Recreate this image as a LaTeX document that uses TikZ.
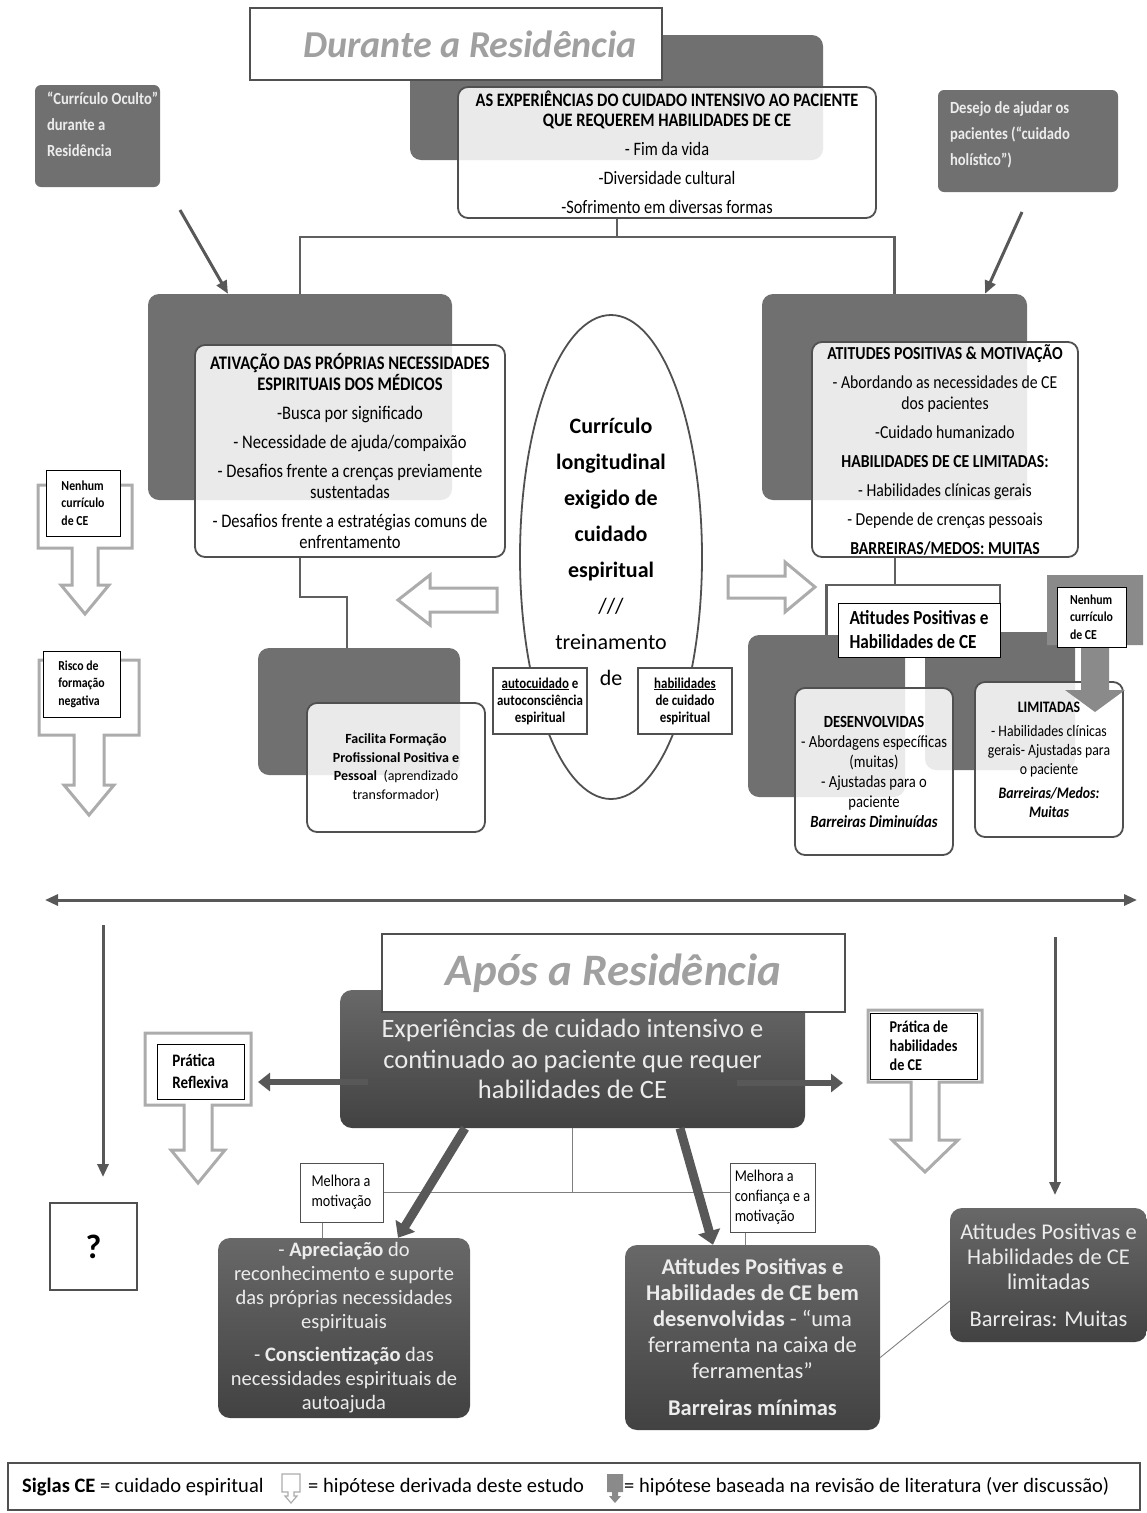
\documentclass[tikz,border=0pt]{standalone}
\usepackage{fontspec}
\setmainfont{Carlito}
\newfontfamily\condfont[FakeStretch=0.86]{Carlito}
\usetikzlibrary{shapes.geometric,arrows.meta}
\definecolor{bggray}{RGB}{112,112,112}
\definecolor{boxline}{RGB}{80,80,80}
\definecolor{linkgray}{RGB}{95,95,95}
\definecolor{arrowgray}{RGB}{88,88,88}
\definecolor{hollowgray}{RGB}{172,172,172}
\definecolor{lighttext}{RGB}{236,236,236}
\definecolor{titlegray}{RGB}{160,160,160}
\definecolor{darktop}{RGB}{104,104,104}
\definecolor{darkbot}{RGB}{66,66,66}
% callout arrow pointing down: x, half width, top, bottom of box, shaft half, head base, head half, tip, style
\newcommand{\calloutdown}[9]{%
  \path[#9] (#1-#2,#3) -- (#1+#2,#3) -- (#1+#2,#4) -- (#1+#5,#4) -- (#1+#5,#6) -- (#1+#7,#6)
    -- (#1,#8) -- (#1-#7,#6) -- (#1-#5,#6) -- (#1-#5,#4) -- (#1-#2,#4) -- cycle;}
\begin{document}
\begin{tikzpicture}[x=1pt,y=-1pt,
  bgrect/.style={fill=bggray, rounded corners=11pt, inner sep=0pt},
  whitebox/.style={draw=boxline, line width=1.8pt, fill=white, fill opacity=0.86, text opacity=1, rounded corners=10pt, align=center, inner sep=0pt},
  tagbox/.style={draw=black, line width=1pt, fill=white, inner sep=0pt, align=left, font=\condfont\bfseries\fontsize{13.7}{17.5}\selectfont},
  greytag/.style={fill=bggray, rounded corners=6pt, inner sep=0pt},
  greytext/.style={anchor=north west, inner sep=0pt, text=lighttext, align=left, font=\condfont\bfseries\fontsize{17}{26}\selectfont},
  darkbox/.style={top color=darktop, bottom color=darkbot, rounded corners=12pt, inner sep=0pt, text=lighttext, align=center},
  titlebox/.style={draw=boxline, line width=2pt, fill=white, inner sep=0pt, text=titlegray},
  link/.style={draw=linkgray, line width=2.4pt},
  fine/.style={draw=linkgray!80, line width=0.9pt},
  heavy/.style={draw=arrowgray, line width=3pt, -{Triangle[length=13pt,width=11pt]}},
  side/.style={draw=arrowgray, line width=6pt, -{Triangle[length=12pt,width=18pt]}},
  bigarrow/.style={draw=arrowgray, line width=9pt, -{Triangle[length=14pt,width=22pt]}},
  hollow/.style={draw=hollowgray, line width=3pt, fill=white},
  solidcall/.style={fill=hollowgray!80!black},
]
\useasboundingbox (0,0) rectangle (1147,1513);

%% Durante a Residencia
\node[bgrect, minimum width=413, minimum height=125] (expbg) at (616.5,97.5) {};
\node[bgrect, minimum width=304, minimum height=206] (ativbg) at (300,397) {};
\node[bgrect, minimum width=265, minimum height=206] (atitbg) at (894.5,397) {};
\node[bgrect, minimum width=202, minimum height=127] (facbg) at (359,711.5) {};
\node[bgrect, minimum width=157, minimum height=162] (desbg) at (826.5,716) {};
\node[bgrect, minimum width=150, minimum height=138] (limbg) at (1000,701) {};

\node[titlebox, minimum width=412, minimum height=72] (durante) at (456,44) {};
\node[text=titlegray, font=\fontsize{38}{38}\selectfont\bfseries\itshape] (durantetext) at ([xshift=14pt]durante.center) {Durante a Residência};

\node[whitebox, minimum width=418, minimum height=131, font=\condfont\fontsize{19}{20}\selectfont] (exp) at (667,152.5)
  {\textbf{AS EXPERIÊNCIAS DO CUIDADO INTENSIVO AO PACIENTE}\\\textbf{QUE REQUEREM HABILIDADES DE CE}\\[9pt]- Fim da vida\\[9pt]-Diversidade cultural\\[9pt]-Sofrimento em diversas formas};

\node[greytag, minimum width=125, minimum height=102] (oculto) at (97.5,136) {};
\node[greytext] (ocultotext) at ([shift={(12,7)}]oculto.north west) {“Currículo Oculto”\\durante a\\Residência};
\node[greytag, minimum width=180, minimum height=102] (desejo) at (1028,141) {};
\node[greytext] (desejotext) at ([shift={(12,12)}]desejo.north west) {Desejo de ajudar os\\pacientes (“cuidado\\holístico”)};

\coordinate (split) at (617,237);
\draw[link] (split) -- (split |- exp.south);
\draw[link] (ativbg.north) |- (split) -| (atitbg.north);

\coordinate (ocA) at (180,210);
\draw[heavy] (ocA) -- (ativbg.north -| 228,0);
\coordinate (deA) at (1022,212);
\draw[heavy] (deA) -- (atitbg.north -| 985,0);

\node[whitebox, minimum width=310, minimum height=212, font=\condfont\fontsize{19.2}{21}\selectfont] (ativ) at (350,451)
  {\textbf{ATIVAÇÃO DAS PRÓPRIAS NECESSIDADES}\\\textbf{ESPIRITUAIS DOS MÉDICOS}\\[8pt]-Busca por significado\\[8pt]- Necessidade de ajuda/compaixão\\[8pt]- Desafios frente a crenças previamente\\sustentadas\\[8pt]- Desafios frente a estratégias comuns de\\enfrentamento};

\node[whitebox, minimum width=266, minimum height=215, font=\condfont\fontsize{18.3}{21}\selectfont] (atit) at (945,449.5)
  {\textbf{ATITUDES POSITIVAS \& MOTIVAÇÃO}\\[8pt]- Abordando as necessidades de CE\\dos pacientes\\[8pt]-Cuidado humanizado\\[8pt]\textbf{HABILIDADES DE CE LIMITADAS:}\\[8pt]- Habilidades clínicas gerais\\[8pt]- Depende de crenças pessoais\\[8pt]\textbf{BARREIRAS/MEDOS: MUITAS}};

\node[draw=boxline, line width=1.8pt, ellipse, fill=white, minimum width=182, minimum height=484, inner sep=0pt] (curric) at (611,557) {};
\node[align=center, inner sep=0pt, font=\fontsize{22}{36}\selectfont] (currictext) at ([yshift=5pt]curric.center)
  {\textbf{Currículo}\\\textbf{longitudinal}\\\textbf{exigido de}\\\textbf{cuidado}\\\textbf{espiritual}\\///\\treinamento\\de};

\node[tagbox, draw=boxline, line width=1.8pt, align=center, font=\condfont\bfseries\fontsize{15}{17}\selectfont, minimum width=94, minimum height=66] (autoc) at (540,701) {\underline{autocuidado} e\\autoconsciência\\espiritual};
\node[tagbox, draw=boxline, line width=1.8pt, align=center, font=\condfont\bfseries\fontsize{15}{17}\selectfont, minimum width=94, minimum height=66] (habcui) at (685,701) {\underline{habilidades}\\de cuidado\\espiritual};

\draw[hollow] (497,588) -- (430,588) -- (430,575) -- (398,600) -- (430,625) -- (430,612) -- (497,612) -- cycle;
\draw[hollow] (728,576) -- (785,576) -- (785,562) -- (815,587) -- (785,612) -- (785,598) -- (728,598) -- cycle;

\coordinate (bend) at (347,597);
\draw[link] (ativ.south -| ativbg.north) |- (bend) -- (bend |- facbg.north);
\node[whitebox, minimum width=178, minimum height=129, font=\fontsize{14}{18.5}\selectfont] (fac) at (396,767.5)
  {\textbf{Facilita Formação}\\\textbf{Profissional Positiva e}\\\textbf{Pessoal}\ \ (aprendizado\\transformador)};

\calloutdown{85}{47}{485}{548}{13}{585}{24}{614}{hollow}
\node[tagbox, minimum width=74, minimum height=66] (nenhumL) at (83,503) {Nenhum\\currículo\\de CE};
\calloutdown{89}{50}{660}{735}{15}{785}{25}{815}{hollow}
\node[tagbox, minimum width=77, minimum height=66] (riscoL) at (81.5,684) {Risco de\\formação\\negativa};

\coordinate (atsplit) at (895,585);
\draw[link] (atit.south -| atsplit) -- (atsplit);
\draw[link] (desbg.north) |- (atsplit) -| (1000,603);
\node[draw=black, line width=1pt, fill=white, inner sep=0pt, align=left, minimum width=162, minimum height=54, font=\condfont\bfseries\fontsize{20}{24}\selectfont] (atpos) at (919,630) {Atitudes Positivas e\\Habilidades de CE};

\node[whitebox, minimum width=158, minimum height=167, font=\condfont\fontsize{17}{20}\selectfont] (desenv) at (874,771.5)
  {\textbf{DESENVOLVIDAS}\\- Abordagens específicas\\(muitas)\\- Ajustadas para o\\paciente\\\textbf{\textit{Barreiras Diminuídas}}};
\node[whitebox, minimum width=148, minimum height=155, font=\condfont\fontsize{16}{19}\selectfont] (limit) at (1049,759.5)
  {\textbf{LIMITADAS}\\[5pt]- Habilidades clínicas\\gerais- Ajustadas para\\o paciente\\[5pt]\textbf{\textit{Barreiras/Medos:}}\\\textbf{\textit{Muitas}}};

\calloutdown{1095}{48}{575}{645}{14}{690}{30}{712}{solidcall}
\node[tagbox, minimum width=69, minimum height=60] (nenhumR) at (1091.5,617) {Nenhum\\currículo\\de CE};

%% Apos a Residencia
\coordinate (tleft) at (45,900);
\coordinate (tright) at (1137,900);
\draw[heavy, {Triangle[length=13pt,width=11pt]}-{Triangle[length=13pt,width=11pt]}] (tleft) -- (tright);

\node[darkbox, minimum width=465, minimum height=138, font=\fontsize{26.5}{30.5}\selectfont] (expafter) at (572.5,1059)
  {Experiências de cuidado intensivo e\\continuado ao paciente que requer\\habilidades de CE};
\node[titlebox, minimum width=463, minimum height=78] (apos) at (613.5,973) {};
\node[text=titlegray, font=\fontsize{45}{45}\selectfont\bfseries\itshape] (apostext) at (apos.center) {Após a Residência};

\calloutdown{198}{53}{1033}{1105}{14}{1150}{27}{1183}{hollow}
\node[tagbox, font=\condfont\bfseries\fontsize{17.5}{22}\selectfont, minimum width=87, minimum height=55] (reflex) at (200.5,1071.5) {Prática\\Reflexiva};
\calloutdown{925}{57}{1010}{1082}{14}{1140}{33}{1172}{hollow}
\node[tagbox, font=\condfont\bfseries\fontsize{16.5}{19}\selectfont, minimum width=107, minimum height=66] (pratica) at (923.5,1046) {Prática de\\habilidades\\de CE};

\coordinate (refA) at (368,1082);
\coordinate (refB) at (258,1082);
\draw[side] (refA) -- (refB);
\coordinate (praA) at (737,1083);
\coordinate (praB) at (843,1083);
\draw[side] (praA) -- (praB);

\coordinate (leftdrop) at (103,925);
\draw[heavy, shorten >=26pt] (leftdrop) -- (leftdrop |- 0,1203);
\node[draw=boxline, line width=1.8pt, fill=white, inner sep=0pt, minimum width=87, minimum height=87, font=\bfseries\fontsize{34}{34}\selectfont] (qbox) at (93.5,1246.5) {?};

\node[tagbox, font=\condfont\fontsize{16.5}{20}\selectfont, draw=boxline, minimum width=83, minimum height=59] (melh1) at (341.5,1192.5) {Melhora a\\motivação};
\node[tagbox, font=\condfont\fontsize{16.5}{20}\selectfont, draw=boxline, minimum width=85, minimum height=69] (melh2) at (772.5,1197.5) {Melhora a\\confiança e a\\motivação};

\node[darkbox, minimum width=252, minimum height=180, font=\fontsize{20.5}{24}\selectfont] (apreci) at (344,1328)
  {- \textbf{Apreciação} do\\reconhecimento e suporte\\das próprias necessidades\\espirituais\\[9pt]- \textbf{Conscientização} das\\necessidades espirituais de\\autoajuda};
\node[darkbox, minimum width=255, minimum height=185, font=\fontsize{22.5}{26}\selectfont] (bemdes) at (752.5,1337.5)
  {\textbf{Atitudes Positivas e}\\\textbf{Habilidades de CE bem}\\\textbf{desenvolvidas} - “uma\\ferramenta na caixa de\\ferramentas”\\[11pt]\textbf{Barreiras mínimas}};
\node[darkbox, minimum width=197, minimum height=134, font=\fontsize{22.5}{25}\selectfont] (limdes) at (1048.5,1275)
  {Atitudes Positivas e\\Habilidades de CE\\limitadas\\[12pt]Barreiras: Muitas};

\coordinate (rightdrop) at (1055,937);
\draw[heavy] (rightdrop) -- (rightdrop |- 0,1195);

\draw[fine] (expafter.south -| 572,0) -- (melh1.east -| 572,0);
\draw[fine] (melh1.east) -- (melh1.east -| melh2.west);
\draw[fine] (melh1.south -| 322,0) -- (apreci.north -| 322,0);
\draw[fine] (melh2.south -| 745,0) -- (bemdes.north -| 745,0);
\draw[fine] ([yshift=-20pt]bemdes.east) -- ([yshift=-26pt]limdes.west);

\draw[bigarrow] (expafter.south -| 465,0) -- (apreci.north -| 398,0);
\draw[bigarrow] (expafter.south -| 680,0) -- (bemdes.north -| 713,0);

%% legenda
\node[draw=boxline, line width=1.5pt, inner sep=0pt, minimum width=1132, minimum height=47] (legend) at (574,1486.5) {};
\node[anchor=west, inner sep=0pt, font=\fontsize{20.5}{22}\selectfont] (leg1) at (22,1487) {\textbf{Siglas CE} = cuidado espiritual};
\calloutdown{291}{9}{1474}{1492}{3}{1496}{6}{1503}{draw=hollowgray, line width=1.2pt, fill=white}
\node[anchor=west, inner sep=0pt, font=\fontsize{20.5}{22}\selectfont] (leg2) at (308,1487) {= hipótese derivada deste estudo};
\calloutdown{615}{8}{1474}{1492}{3}{1496}{6}{1503}{solidcall}
\node[anchor=west, inner sep=0pt, font=\fontsize{20.5}{22}\selectfont] (leg3) at (624,1487) {= hipótese baseada na revisão de literatura (ver discussão)};
\end{tikzpicture}
\end{document}
